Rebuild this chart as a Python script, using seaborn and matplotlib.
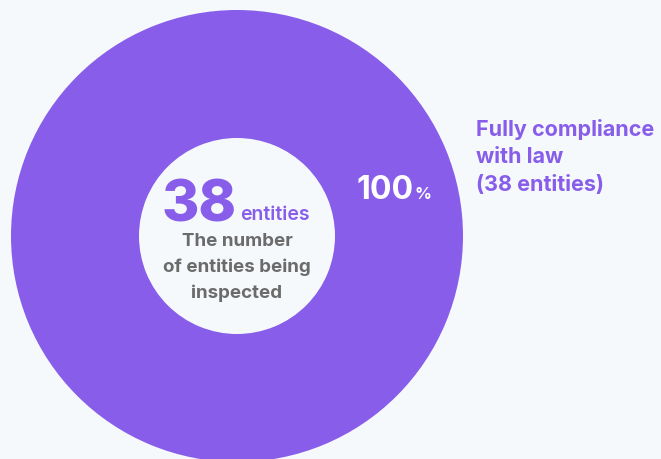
import matplotlib
matplotlib.use("Agg")
import matplotlib.pyplot as plt
import seaborn as sns

# data
categories = ["Fully compliance with law"]
values = [38]
total_entities = 38
percent_labels = ["100"]

sns.set_theme(style="white")
plt.rcParams['font.family'] = ['Inter', 'DejaVu Sans']

BG = "#F5F9FC"
PURPLE = "#875DEA"
GRAY = "#6B6B6B"

W, H = 661, 459
fig = plt.figure(figsize=(W / 100, H / 100), dpi=100, facecolor=BG)
ax = fig.add_axes([0, 0, 1, 1])
ax.set_facecolor(BG)

cx, cy = 237, H - 236
R_out, R_in = 226, 98
ax.pie(values, colors=[PURPLE], radius=R_out, center=(cx, cy), startangle=90,
       counterclock=False, wedgeprops=dict(width=R_out - R_in, edgecolor="none"),
       frame=True)
ax.set_xlim(0, W)
ax.set_ylim(0, H)
ax.set_aspect("equal")
ax.axis("off")

# center texts
ax.text(199, H - 221, f"{total_entities}", color=PURPLE, fontsize=41, fontweight="heavy",
        ha="center", va="baseline")
ax.text(240, H - 220, "entities", color=PURPLE, fontsize=14, fontweight="semibold",
        ha="left", va="baseline")
for i, line in enumerate(["The number", "of entities being", "inspected"]):
    ax.text(cx, H - (241 + 26 * i), line, color=GRAY, fontsize=13.5, fontweight="bold",
            ha="center", va="center")

# percent label
ax.text(356, H - 199, percent_labels[0], color="white", fontsize=23, fontweight="bold",
        ha="left", va="baseline")
ax.text(414, H - 199, "%", color="white", fontsize=12, fontweight="bold",
        ha="left", va="baseline")

# right-side label
for i, line in enumerate(["Fully compliance", "with law", f"({values[0]} entities)"]):
    ax.text(476, H - (129 + 28 * i), line, color=PURPLE, fontsize=15.5, fontweight="bold",
            ha="left", va="center")

fig.savefig("out.png", dpi=100, facecolor=BG)
